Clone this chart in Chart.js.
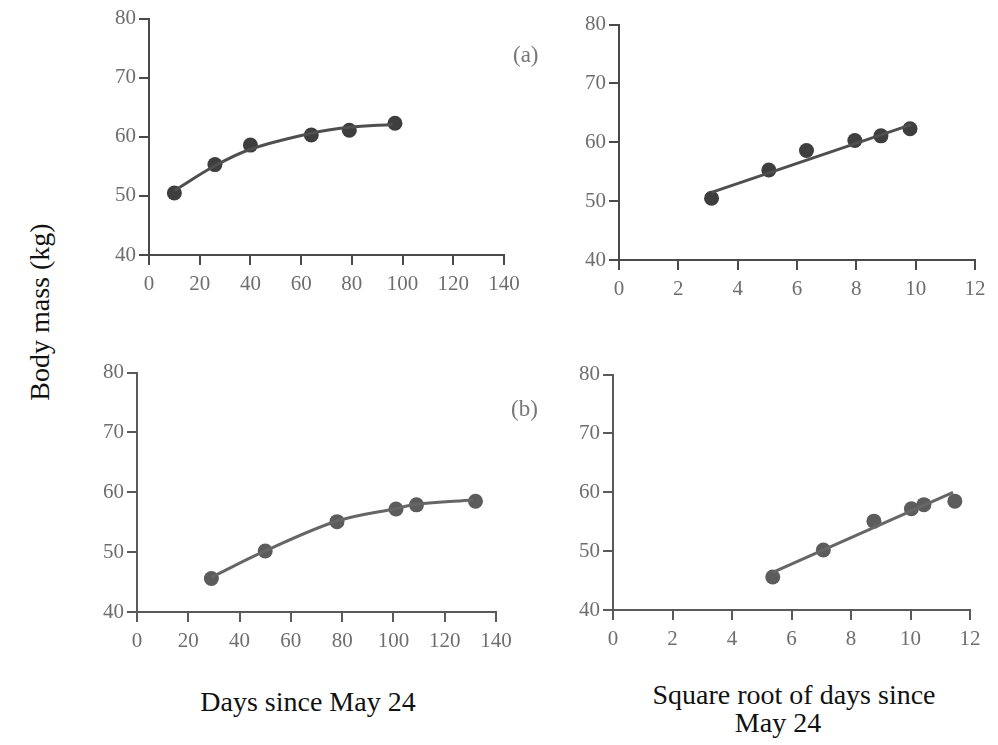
<!DOCTYPE html>
<html>
<head>
<meta charset="utf-8">
<script src="https://cdn.jsdelivr.net/npm/chart.js@4.4.1/dist/chart.umd.min.js"></script>
<style>
  body { margin: 0; background: #fff; overflow: hidden; }
  #page { position: relative; width: 998px; height: 745px; font-family: "Liberation Serif", serif; }
  .panel { position: absolute; }
  .lbl { position: absolute; white-space: nowrap; color: #111; font-size: 28px; }
  .tag { position: absolute; color: #777; font-size: 23px; }
</style>
</head>
<body>
<div id="page">
  <div class="panel" id="pA1"><canvas id="chartA1"></canvas></div>
  <div class="panel" id="pA2"><canvas id="chartA2"></canvas></div>
  <div class="panel" id="pB1"><canvas id="chartB1"></canvas></div>
  <div class="panel" id="pB2"><canvas id="chartB2"></canvas></div>

  <div class="tag" style="left:513px; top:42px;">(a)</div>
  <div class="tag" style="left:511px; top:396px;">(b)</div>

  <div class="lbl" style="left:40px; top:312px; transform: translate(-50%, -50%) rotate(-90deg);">Body mass (kg)</div>
  <div class="lbl" style="left:308px; top:702px; transform: translate(-50%, -50%);">Days since May 24</div>
  <div class="lbl" style="left:794px; top:695px; transform: translate(-50%, -50%);">Square root of days since</div>
  <div class="lbl" style="left:778px; top:723px; transform: translate(-50%, -50%);">May 24</div>
</div>

<script>
// ---- data ----
// (a) first animal
const daysA = [10, 26, 40, 64, 79, 97];
const sqrtDaysA = [3.12, 5.05, 6.32, 7.95, 8.83, 9.81];
const massA = [50.5, 55.3, 58.6, 60.3, 61.1, 62.3];
// fitted curve / line (a)
const fitDaysA = [10, 26, 40, 64, 79, 96];
const fitMassA = [50.9, 55.1, 57.9, 60.6, 61.6, 62.1];
const fitSqrtA = [3.12, 9.85];
const fitSqrtMassA = [51.5, 63.0];

// (b) second animal
const daysB = [29, 50, 78, 101, 109, 132];
const sqrtDaysB = [5.37, 7.07, 8.77, 10.03, 10.45, 11.49];
const massB = [45.6, 50.2, 55.1, 57.2, 57.9, 58.5];
const fitDaysB = [29, 50, 78, 101, 109, 131];
const fitMassB = [45.8, 50.2, 55.2, 57.3, 58.0, 58.7];
const fitSqrtB = [5.37, 11.43];
const fitSqrtMassB = [46.4, 60.0];

// axis ticks
const massTicks = [40, 50, 60, 70, 80];
const dayTicks = [0, 20, 40, 60, 80, 100, 120, 140];
const sqrtTicks = [0, 2, 4, 6, 8, 10, 12];

// ---- layout (pixel box of each plot area) ----
const Y_AXIS_W = 50, X_AXIS_H = 44, PAD_TOP = 14, PAD_RIGHT = 25;

function toXY(xs, ys) {
    return xs.map((x, i) => ({ x: x, y: ys[i] }));
}

function makePanel(id, box, xTicks, pts, fit, curved, dark) {
    const wrap = document.getElementById("p" + id);
    const canvas = document.getElementById("chart" + id);
    const w = box.x1 - box.x0 + Y_AXIS_W + PAD_RIGHT;
    const h = box.yBot - box.yTop + PAD_TOP + X_AXIS_H;
    wrap.style.left = (box.x0 - Y_AXIS_W) + "px";
    wrap.style.top = (box.yTop - PAD_TOP) + "px";
    canvas.width = w;
    canvas.height = h;
    canvas.style.width = w + "px";
    canvas.style.height = h + "px";

    const axisColor = dark ? "#4a4a4a" : "#5a5a5a";
    const tickColor = "#6e6e6e";
    const tickFont = { family: "Liberation Serif", size: 21 };

    new Chart(canvas.getContext("2d"), {
        type: "scatter",
        data: {
            datasets: [
                {
                    data: fit,
                    showLine: true,
                    borderColor: dark ? "#4f4f4f" : "#666666",
                    borderWidth: 3,
                    pointRadius: 0,
                    tension: curved ? 0.35 : 0,
                },
                {
                    data: pts,
                    backgroundColor: dark ? "#3e3e3e" : "#5c5c5c",
                    borderWidth: 0,
                    pointRadius: 7.5,
                },
            ],
        },
        options: {
            responsive: false,
            animation: false,
            layout: { padding: { top: PAD_TOP, right: PAD_RIGHT, left: 0, bottom: 0 } },
            plugins: { legend: { display: false }, tooltip: { enabled: false } },
            scales: {
                x: {
                    type: "linear",
                    min: xTicks[0],
                    max: xTicks[xTicks.length - 1],
                    afterBuildTicks: (s) => { s.ticks = xTicks.map((v) => ({ value: v })); },
                    afterFit: (s) => { s.height = X_AXIS_H; },
                    ticks: { color: tickColor, font: tickFont, padding: 7, maxRotation: 0 },
                    grid: { drawOnChartArea: false, tickLength: 10, color: axisColor, lineWidth: 2 },
                    border: { color: axisColor, width: 2 },
                },
                y: {
                    min: massTicks[0],
                    max: massTicks[massTicks.length - 1],
                    afterBuildTicks: (s) => { s.ticks = massTicks.map((v) => ({ value: v })); },
                    afterFit: (s) => { s.width = Y_AXIS_W; },
                    ticks: { color: tickColor, font: tickFont, padding: 3 },
                    grid: { drawOnChartArea: false, tickLength: 10, color: axisColor, lineWidth: 2 },
                    border: { color: axisColor, width: 2 },
                },
            },
        },
    });
}

makePanel("A1", { x0: 149, x1: 504, yTop: 17, yBot: 255 }, dayTicks,
    toXY(daysA, massA), toXY(fitDaysA, fitMassA), true, true);
makePanel("A2", { x0: 619, x1: 975, yTop: 23, yBot: 260 }, sqrtTicks,
    toXY(sqrtDaysA, massA), toXY(fitSqrtA, fitSqrtMassA), false, true);
makePanel("B1", { x0: 137, x1: 496, yTop: 371, yBot: 612 }, dayTicks,
    toXY(daysB, massB), toXY(fitDaysB, fitMassB), true, false);
makePanel("B2", { x0: 613, x1: 970, yTop: 373, yBot: 610 }, sqrtTicks,
    toXY(sqrtDaysB, massB), toXY(fitSqrtB, fitSqrtMassB), false, false);
</script>
</body>
</html>
